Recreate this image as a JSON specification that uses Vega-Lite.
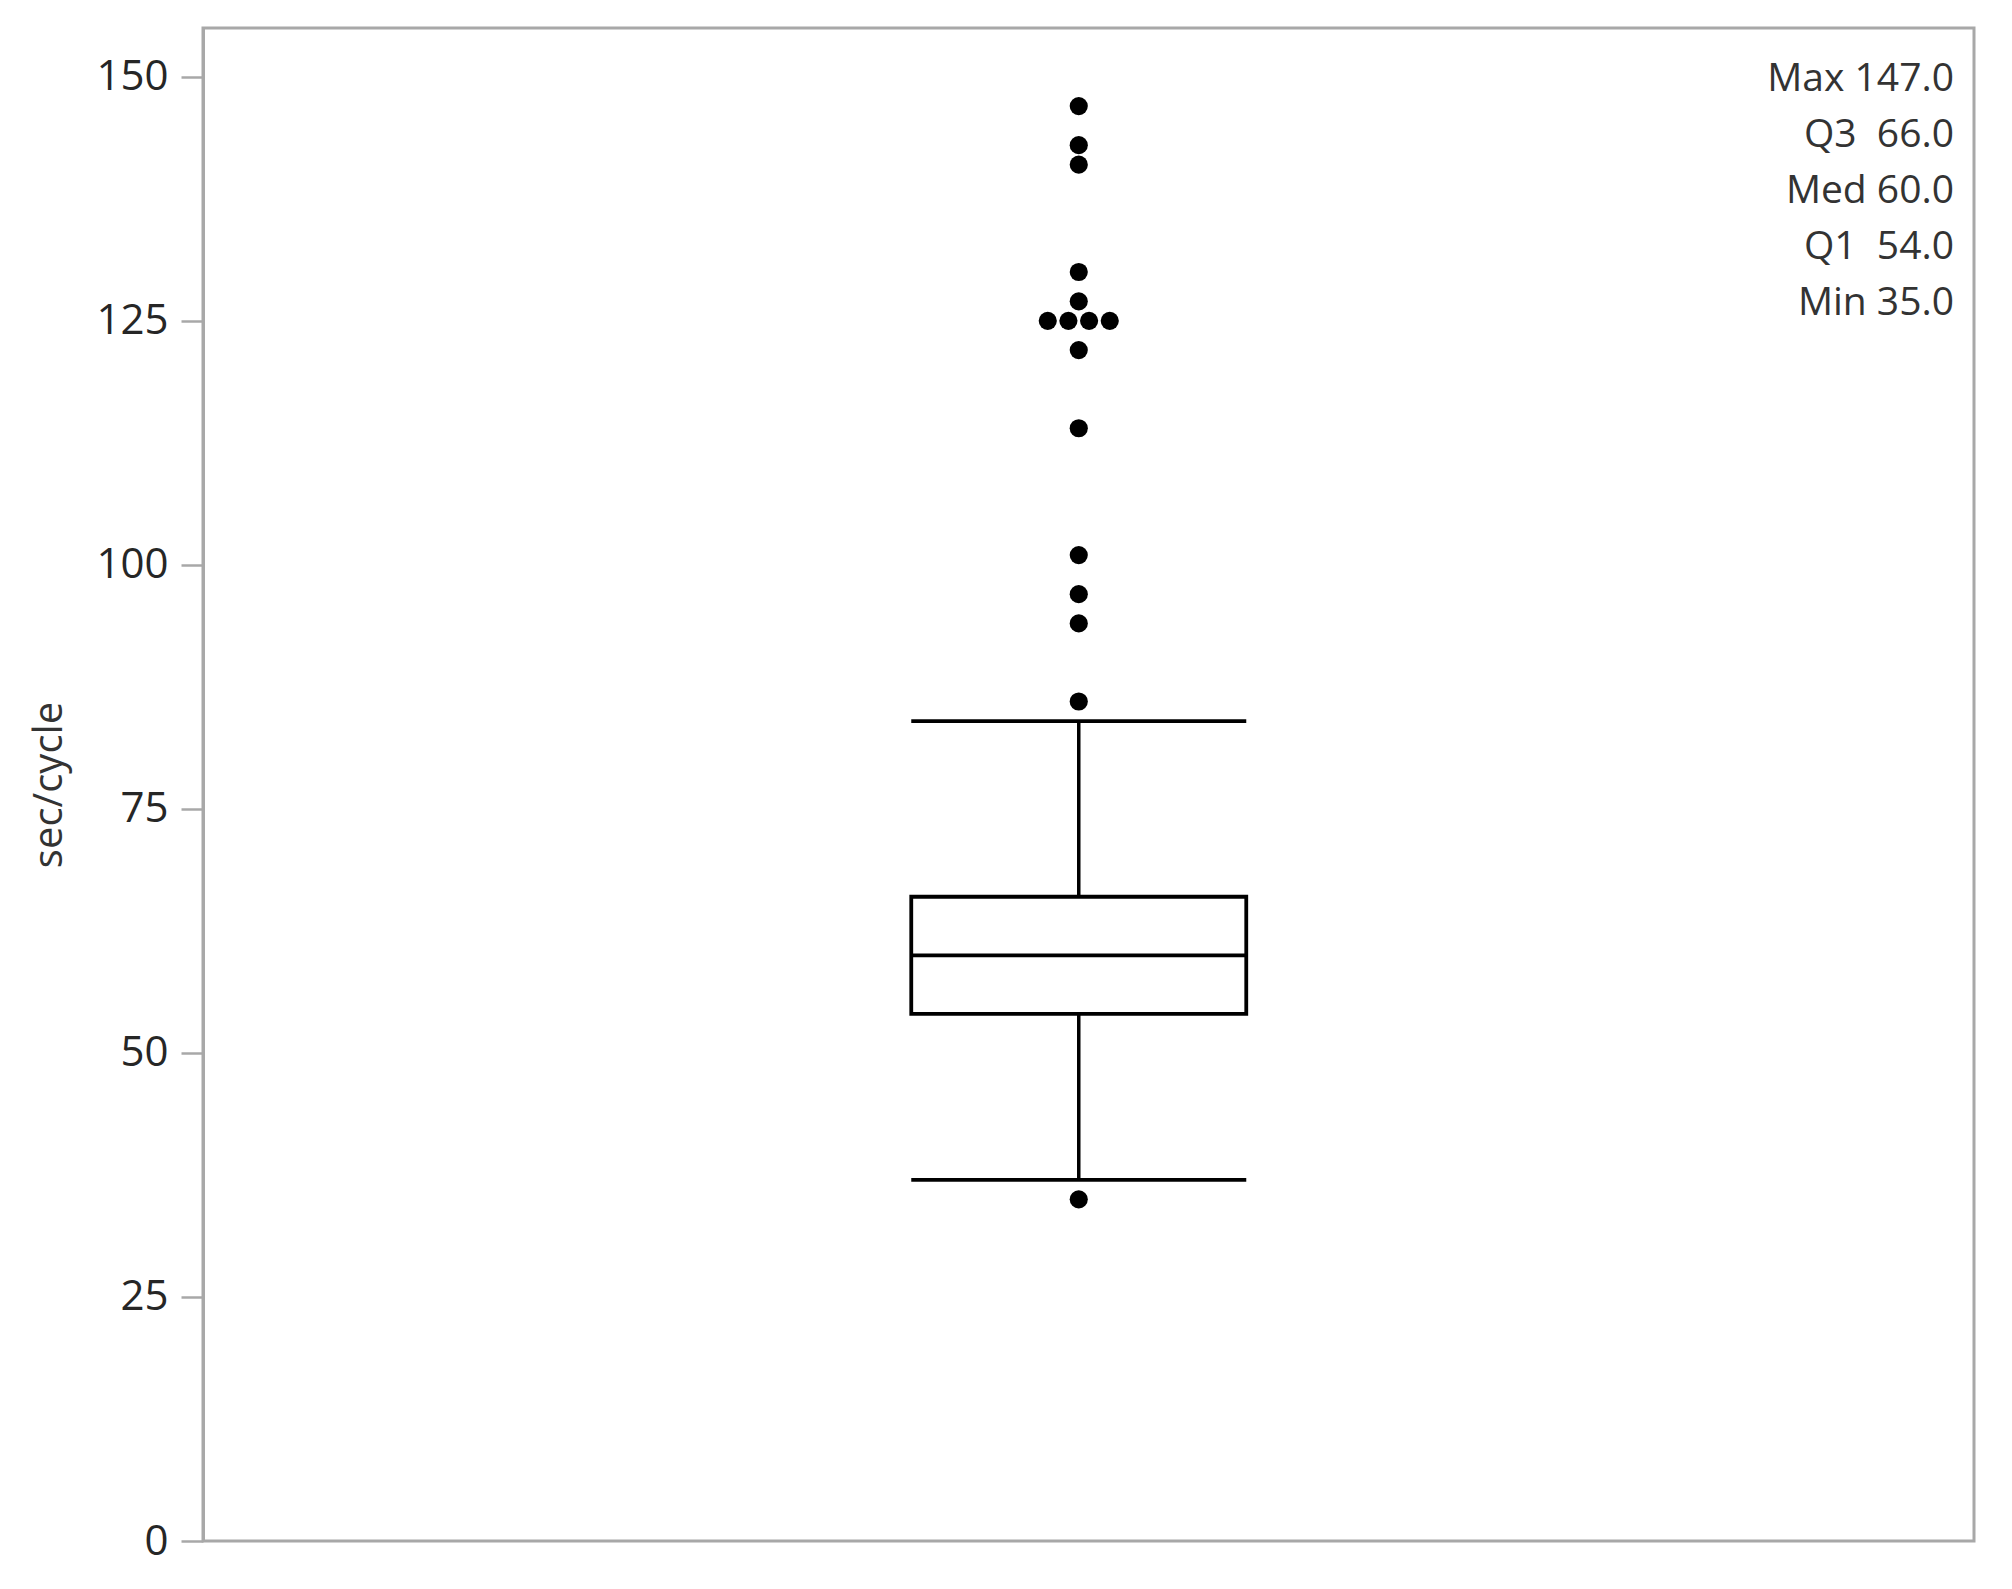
{
  "$schema": "https://vega.github.io/schema/vega-lite/v6.json",
  "autosize": {"type": "none"},
  "padding": {"left": 203, "top": 28, "right": 38, "bottom": 48},
  "width": 1771,
  "height": 1513,
  "background": "white",
  "title": {
    "text": ["Max 147.0", "Q3\u00a0\u00a066.0", "Med 60.0", "Q1\u00a0\u00a054.0", "Min 35.0"],
    "anchor": "end",
    "frame": "group",
    "orient": "top",
    "align": "right",
    "baseline": "top",
    "offset": -295,
    "dx": -20,
    "font": "Open Sans",
    "fontSize": 39,
    "fontWeight": "normal",
    "lineHeight": 56,
    "color": "#333333"
  },
  "datasets": {
    "summary": [
      {"group": "sec/cycle", "lower": 37, "q1": 54, "median": 60, "q3": 66, "upper": 84}
    ],
    "outliers": [
      {"group": "sec/cycle", "v": 147, "dup": "none"},
      {"group": "sec/cycle", "v": 143, "dup": "none"},
      {"group": "sec/cycle", "v": 141, "dup": "none"},
      {"group": "sec/cycle", "v": 130, "dup": "none"},
      {"group": "sec/cycle", "v": 127, "dup": "none"},
      {"group": "sec/cycle", "v": 125, "dup": "a"},
      {"group": "sec/cycle", "v": 125, "dup": "b"},
      {"group": "sec/cycle", "v": 125, "dup": "c"},
      {"group": "sec/cycle", "v": 125, "dup": "d"},
      {"group": "sec/cycle", "v": 122, "dup": "none"},
      {"group": "sec/cycle", "v": 114, "dup": "none"},
      {"group": "sec/cycle", "v": 101, "dup": "none"},
      {"group": "sec/cycle", "v": 97, "dup": "none"},
      {"group": "sec/cycle", "v": 94, "dup": "none"},
      {"group": "sec/cycle", "v": 86, "dup": "none"},
      {"group": "sec/cycle", "v": 35, "dup": "none"}
    ]
  },
  "encoding": {
    "x": {
      "field": "group",
      "type": "nominal",
      "scale": {"type": "point", "padding": 0, "align": 0.4945},
      "axis": null
    }
  },
  "layer": [
    {
      "data": {"name": "summary"},
      "mark": {"type": "rule", "color": "black", "strokeWidth": 3.5},
      "encoding": {
        "y": {
          "field": "lower",
          "type": "quantitative",
          "scale": {"domain": [0, 155], "nice": false, "zero": true},
          "axis": {
            "title": "sec/cycle",
            "values": [0, 25, 50, 75, 100, 125, 150],
            "grid": false,
            "domain": true,
            "domainColor": "#a8a8a8",
            "domainWidth": 3,
            "ticks": true,
            "tickColor": "#a8a8a8",
            "tickWidth": 2.5,
            "tickSize": 22,
            "labelPadding": 13,
            "labelFont": "Open Sans",
            "labelFontSize": 42,
            "labelColor": "#262626",
            "labelFlush": false,
            "labelOverlap": false,
            "titleFont": "Open Sans",
            "titleFontSize": 40,
            "titleFontWeight": "normal",
            "titleColor": "#333333",
            "titlePadding": 26
          }
        },
        "y2": {"field": "upper"}
      }
    },
    {
      "data": {"name": "summary"},
      "mark": {"type": "bar", "size": 335, "fill": "white", "stroke": "black", "strokeWidth": 3.8, "cornerRadius": 0},
      "encoding": {
        "y": {"field": "q1", "type": "quantitative"},
        "y2": {"field": "q3"}
      }
    },
    {
      "data": {"name": "summary"},
      "mark": {"type": "tick", "size": 335, "thickness": 3.8, "color": "black", "opacity": 1},
      "encoding": {"y": {"field": "median", "type": "quantitative"}}
    },
    {
      "data": {"name": "summary"},
      "mark": {"type": "tick", "size": 335, "thickness": 3.8, "color": "black", "opacity": 1},
      "encoding": {"y": {"field": "lower", "type": "quantitative"}}
    },
    {
      "data": {"name": "summary"},
      "mark": {"type": "tick", "size": 335, "thickness": 3.8, "color": "black", "opacity": 1},
      "encoding": {"y": {"field": "upper", "type": "quantitative"}}
    },
    {
      "data": {"name": "outliers"},
      "transform": [{"filter": "datum.dup === 'none'"}],
      "mark": {"type": "circle", "size": 330, "color": "black", "opacity": 1},
      "encoding": {"y": {"field": "v", "type": "quantitative"}}
    },
    {
      "data": {"name": "outliers"},
      "transform": [{"filter": "datum.dup !== 'none'"}],
      "mark": {"type": "circle", "size": 330, "color": "black", "opacity": 1},
      "encoding": {
        "y": {"field": "v", "type": "quantitative"},
        "xOffset": {
          "field": "dup",
          "type": "nominal",
          "scale": {"type": "point", "domain": ["a", "b", "c", "d"], "range": [-31, 31], "padding": 0}
        }
      }
    }
  ],
  "config": {
    "view": {"stroke": "#a8a8a8", "strokeWidth": 3}
  }
}
